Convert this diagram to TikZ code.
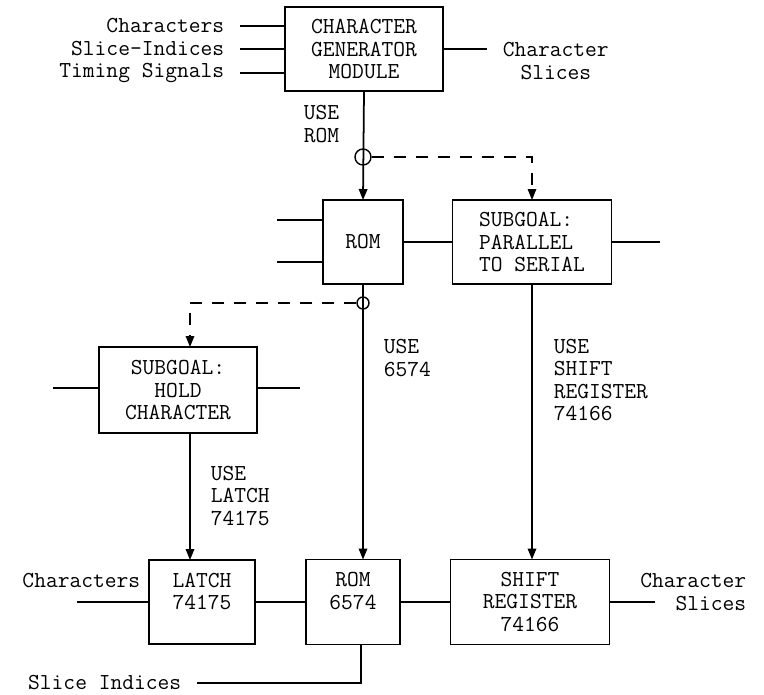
\documentclass[tikz,border=0pt]{standalone}
\usepackage{fontspec}
\usepackage{tikz}
\usetikzlibrary{arrows.meta,calc}
\tikzstyle{unit}  =[rectangle, draw=black, line width=1pt, inner sep=0pt, outer sep=0pt,
                    align=center]
\tikzstyle{tag}   =[inner sep=0pt, align=left]
\tikzstyle{sig}   =[inner ysep=0pt, inner xsep=0.3cm]
\tikzstyle{choice}=[circle, draw=black, line width=0.8pt, inner sep=0pt]
\tikzstyle{arr}   =[-{Triangle[length=0.22cm, width=0.17cm]}, line width=1pt]
\tikzstyle{alt}   =[-{Triangle[length=0.22cm, width=0.17cm]}, line width=0.8pt,
                    dash pattern=on 0.24cm off 0.2cm]

\begin{document}
\begin{tikzpicture}[x=0.02cm, y=-0.02cm, line width=1pt,
                    every node/.style={font=\fontsize{13}{12.6}\ttfamily}]
  \useasboundingbox (0,0) rectangle (764,694);

  % ── blocks ─────────────────────────────────────────────────────────────────
  \node[unit, minimum width=3.16cm, minimum height=1.68cm] (cgm)   at (364, 49)  {CHARACTER\\GENERATOR\\MODULE};
  \node[unit, minimum width=1.60cm, minimum height=1.68cm] (rom)   at (363, 242) {ROM};
  \node[unit, minimum width=3.18cm, minimum height=1.68cm, align=left] (par) at (532, 242) {SUBGOAL:\\PARALLEL\\TO SERIAL};
  \node[unit, minimum width=3.16cm, minimum height=1.72cm] (hold)  at (178, 390) {SUBGOAL:\\HOLD\\CHARACTER};
  \node[unit, minimum width=2.12cm, minimum height=1.68cm] (latch) at (202, 602) {LATCH\\74175\\~};
  \node[unit, minimum width=1.88cm, minimum height=1.70cm] (romb)  at (353, 602) {ROM\\6574\\~};
  \node[unit, minimum width=3.18cm, minimum height=1.70cm] (sr)    at (530, 602) {SHIFT\\REGISTER\\74166};

  % ── choice points ──────────────────────────────────────────────────────────
  \node[choice, minimum size=0.32cm] (or1) at (363, 157) {};
  \node[choice, minimum size=0.24cm] (or2) at (363, 303) {};

  % ── signal names ───────────────────────────────────────────────────────────
  \node[sig, anchor=east] (chin) at (240, 26) {Characters};
  \node[sig, anchor=east] (slin) at (240, 49) {Slice-Indices};
  \node[sig, anchor=east] (tmin) at (240, 73) {Timing Signals};
  \node[sig, anchor=west, align=center] (csout) at (487, 61) {Character\\Slices};
  \node[sig, anchor=east, inner xsep=0pt] (chbot) at (141, 581) {Characters};
  \node[sig, anchor=east, inner xsep=0pt, align=right] (csbot) at (747, 592) {Character\\Slices};
  \node[sig, anchor=east] (slbot) at (197, 683) {Slice Indices};

  % ── refinement labels ──────────────────────────────────────────────────────
  \node[tag, anchor=west] (useRom)   at (303, 124) {USE\\ROM};
  \node[tag, anchor=west] (use6574)  at (383, 358) {USE\\6574};
  \node[tag, anchor=west] (useSR)    at (553, 380) {USE\\SHIFT\\REGISTER\\74166};
  \node[tag, anchor=west] (useLatch) at (210, 496) {USE\\LATCH\\74175};

  % ── loose wire ends ────────────────────────────────────────────────────────
  \coordinate (romA)    at (277, 220);
  \coordinate (romB)    at (277, 262);
  \coordinate (parOut)  at (660, 242);
  \coordinate (holdL)   at (53, 388);
  \coordinate (holdR)   at (300, 388);
  \coordinate (chEnd)   at (77, 602);
  \coordinate (srOut)   at (655, 602);
  \coordinate (holdTap) at (190, 303);

  % ── wires ──────────────────────────────────────────────────────────────────
  \draw (chin.east) -- (cgm.west |- chin);
  \draw (slin.east) -- (cgm.west |- slin);
  \draw (tmin.east) -- (cgm.west |- tmin);
  \draw (cgm.east)  -- (cgm.east -| csout.west);
  \draw (romA) -- (rom.west |- romA);
  \draw (romB) -- (rom.west |- romB);
  \draw (rom.east)  -- (par.west);
  \draw (par.east)  -- (parOut);
  \draw (holdL) -- (hold.west |- holdL);
  \draw (hold.east |- holdR) -- (holdR);
  \draw (chEnd) -- (latch.west);
  \draw (latch.east) -- (romb.west);
  \draw (romb.east)  -- (sr.west);
  \draw (sr.east) -- (srOut);
  \draw (slbot.east) -| ([xshift=0.16cm]romb.south);

  % ── refinements ────────────────────────────────────────────────────────────
  \draw[arr] (cgm.south) -- (rom.north);
  \draw[arr] (rom.south) -- (rom.south |- romb.north);
  \draw[arr] (par.south) -- (par.south |- sr.north);
  \draw[arr] (holdTap |- hold.south) -- (holdTap |- latch.north);
  \draw[alt] (or1.east) -- (or1.east -| par.north) -- (par.north);
  \draw[alt] (or2.west) -- (holdTap) -- (holdTap |- hold.north);

\end{tikzpicture}
\end{document}
